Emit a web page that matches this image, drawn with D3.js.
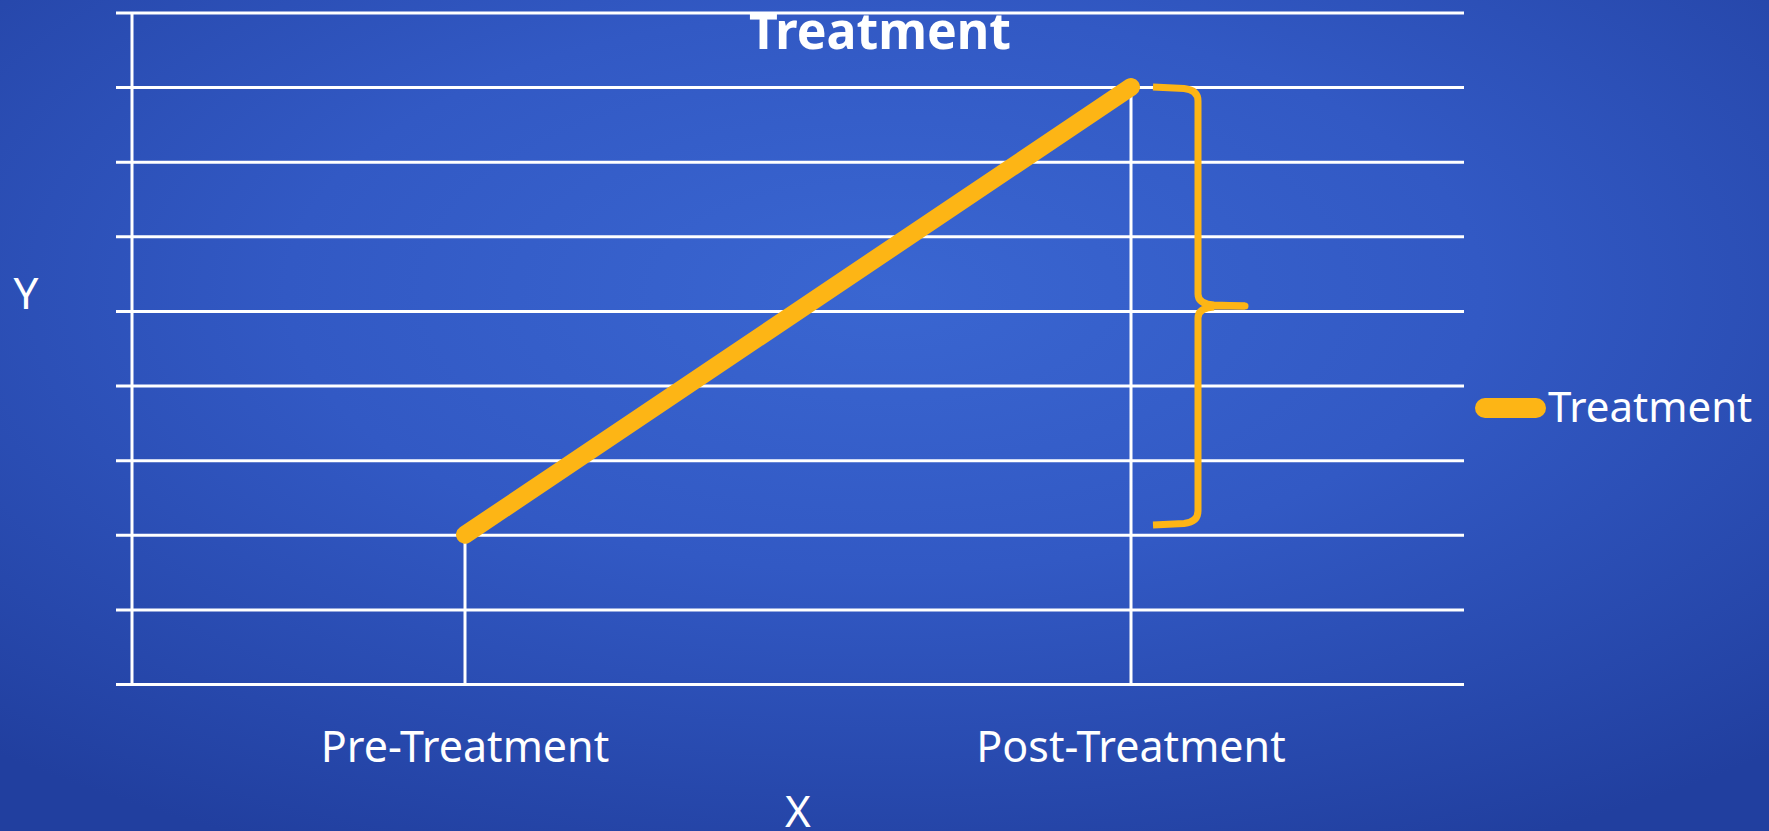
<!DOCTYPE html>
<html>
<head>
<meta charset="utf-8">
<script src="https://cdn.jsdelivr.net/npm/d3@7"></script>
<style>
  html, body { margin: 0; padding: 0; background: #2a4bb0; }
  svg { display: block; }
  text { font-family: "Noto Sans", "Open Sans", sans-serif; fill: #ffffff; }
</style>
</head>
<body>
<svg id="chart" width="1769" height="831"></svg>
<script>
// Chart data
const categories = ["Pre-Treatment", "Post-Treatment"];
const treatment = [2, 8];
const yTicks = [0, 1, 2, 3, 4, 5, 6, 7, 8, 9];
const seriesName = "Treatment";
const chartTitle = "Treatment";
const xTitle = "X";
const yTitle = "Y";
// Span marked by the curly brace beside the post-treatment value
const braceSpan = [2.13, 8];

const W = 1769, H = 831;
const plot = { left: 132, right: 1464, top: 12.4, bottom: 684 };
const yellow = "#FDB515";

const svg = d3.select("#chart");

// Background: blue radial gradient
const defs = svg.append("defs");
const grad = defs.append("radialGradient")
  .attr("id", "bg").attr("cx", "50%").attr("cy", "35%").attr("r", "75%");
grad.append("stop").attr("offset", "0%").attr("stop-color", "#3A66D1");
grad.append("stop").attr("offset", "45%").attr("stop-color", "#3259C4");
grad.append("stop").attr("offset", "100%").attr("stop-color", "#213F9F");
svg.append("rect").attr("width", W).attr("height", H).attr("fill", "url(#bg)");

// Scales
const x = d3.scalePoint().domain(categories).range([plot.left, plot.right]).padding(0.5);
const y = d3.scaleLinear().domain([0, 9]).range([plot.bottom, plot.top]);

// Horizontal gridlines with short ticks left of the axis
const yAxis = d3.axisLeft(y)
  .tickValues(yTicks)
  .tickSizeInner(-(plot.right - plot.left))
  .tickSizeOuter(0)
  .tickFormat("");
const gy = svg.append("g").attr("transform", `translate(${plot.left},0)`).call(yAxis);
gy.select(".domain").remove();
gy.selectAll(".tick line")
  .attr("x1", -16)
  .attr("stroke", "#ffffff")
  .attr("stroke-width", 3);

// Vertical axis line
svg.append("line")
  .attr("x1", plot.left).attr("x2", plot.left)
  .attr("y1", y(9)).attr("y2", y(0))
  .attr("stroke", "#ffffff").attr("stroke-width", 3);

// Drop lines from each point to the baseline
svg.append("g").selectAll("line")
  .data(categories)
  .join("line")
  .attr("x1", d => x(d)).attr("x2", d => x(d))
  .attr("y1", (d, i) => y(treatment[i]))
  .attr("y2", y(0))
  .attr("stroke", "#ffffff").attr("stroke-width", 3);

// Treatment series line
const line = d3.line().x((d, i) => x(categories[i])).y(d => y(d));
svg.append("path")
  .datum(treatment)
  .attr("d", line)
  .attr("fill", "none")
  .attr("stroke", yellow)
  .attr("stroke-width", 18)
  .attr("stroke-linecap", "round")
  .attr("stroke-linejoin", "round");

// Curly brace showing the change
const bx = x(categories[1]);
const bTop = y(braceSpan[1]), bBot = y(braceSpan[0]);
const bMid = (bTop + bBot) / 2;
const endX = bx + 22, spineX = bx + 67, tipX = bx + 114;
const brace = d3.path();
brace.moveTo(endX, bTop);
brace.lineTo(spineX - 14, bTop + 1.5);
brace.quadraticCurveTo(spineX, bTop + 3, spineX, bTop + 14);
brace.lineTo(spineX, bMid - 12);
brace.quadraticCurveTo(spineX, bMid - 2, spineX + 16, bMid - 1);
brace.lineTo(tipX, bMid);
brace.moveTo(spineX + 16, bMid + 1);
brace.quadraticCurveTo(spineX, bMid + 2, spineX, bMid + 12);
brace.lineTo(spineX, bBot - 14);
brace.quadraticCurveTo(spineX, bBot - 3, spineX - 14, bBot - 1.5);
brace.lineTo(endX, bBot);
svg.append("path")
  .attr("d", brace.toString())
  .attr("fill", "none")
  .attr("stroke", yellow)
  .attr("stroke-width", 7)
  .attr("stroke-linejoin", "round");
svg.append("line")
  .attr("x1", spineX + 16).attr("x2", tipX)
  .attr("y1", bMid).attr("y2", bMid)
  .attr("stroke", yellow).attr("stroke-width", 7)
  .attr("stroke-linecap", "round");

// Category labels
svg.append("g").selectAll("text")
  .data(categories)
  .join("text")
  .attr("x", d => x(d))
  .attr("y", 762)
  .attr("text-anchor", "middle")
  .attr("font-size", 43)
  .text(d => d);

// Title
svg.append("text")
  .attr("x", 880).attr("y", 49)
  .attr("text-anchor", "middle")
  .attr("font-size", 50)
  .attr("font-weight", "bold")
  .text(chartTitle);

// Axis titles
svg.append("text")
  .attr("x", 26).attr("y", 309)
  .attr("text-anchor", "middle")
  .attr("font-size", 44)
  .text(yTitle);
svg.append("text")
  .attr("x", 798).attr("y", 827)
  .attr("text-anchor", "middle")
  .attr("font-size", 44)
  .text(xTitle);

// Legend
const legend = svg.append("g").attr("transform", "translate(1485,408)");
legend.append("line")
  .attr("x1", 0).attr("x2", 51)
  .attr("y1", 0).attr("y2", 0)
  .attr("stroke", yellow).attr("stroke-width", 20)
  .attr("stroke-linecap", "round");
legend.append("text")
  .attr("x", 63).attr("y", 14)
  .attr("font-size", 42)
  .text(seriesName);
</script>
</body>
</html>
